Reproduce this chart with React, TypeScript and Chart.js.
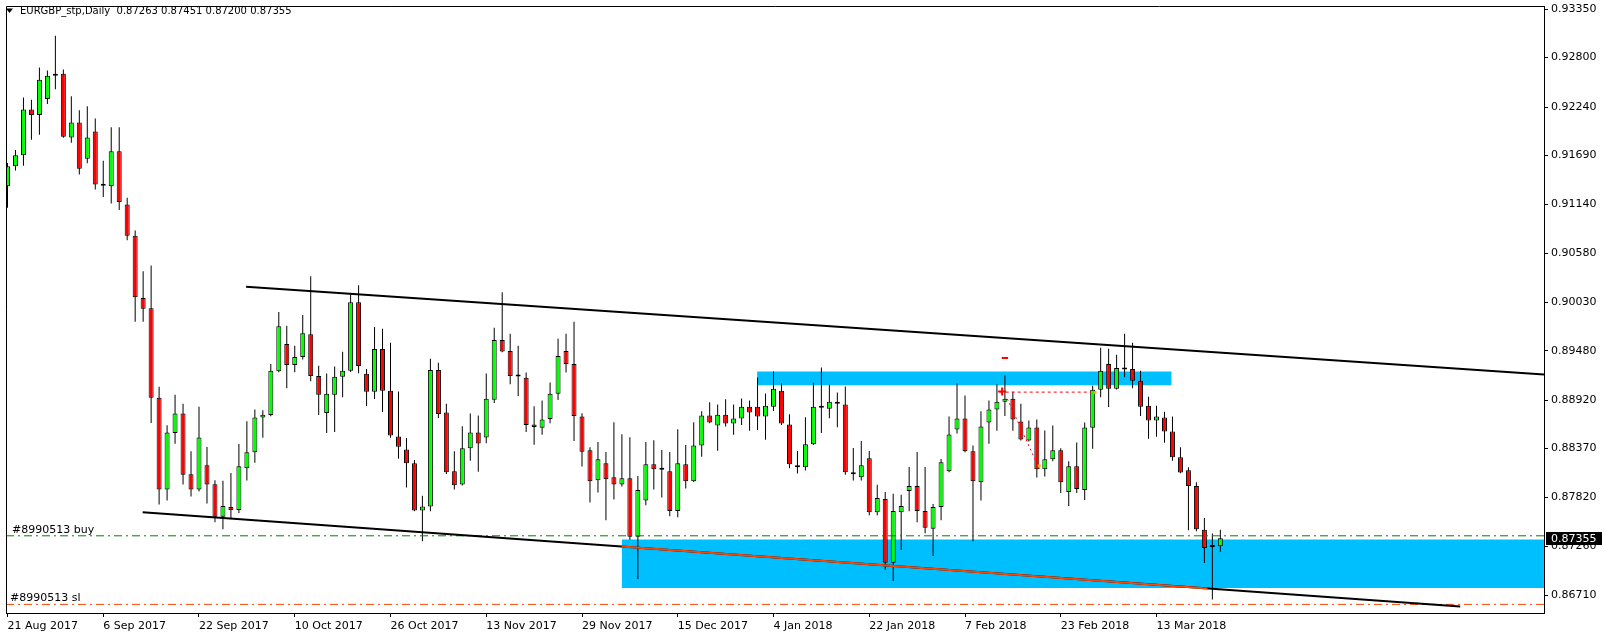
import React, { useEffect, useRef } from 'react';
import { Chart, registerables } from 'chart.js';

Chart.register(...registerables);

const symbolTitle = 'EURGBP_stp,Daily';
const dateLabels = ['21 Aug 2017', '6 Sep 2017', '22 Sep 2017', '10 Oct 2017', '26 Oct 2017', '13 Nov 2017', '29 Nov 2017', '15 Dec 2017', '4 Jan 2018', '22 Jan 2018', '7 Feb 2018', '23 Feb 2018', '13 Mar 2018'];
const dateTickBars = [0, 12, 24, 36, 48, 60, 72, 84, 96, 108, 120, 132, 144];
const priceTicks = [0.9335, 0.928, 0.9224, 0.9169, 0.9114, 0.9058, 0.9003, 0.8948, 0.8892, 0.8837, 0.8782, 0.8726, 0.8671];

const opens = [0.91344, 0.91569, 0.91693, 0.92211, 0.92150, 0.92330, 0.92594, 0.92616, 0.91896, 0.92065, 0.91655, 0.91963, 0.91351, 0.91344, 0.91738, 0.91137, 0.90781, 0.90076, 0.89960, 0.88947, 0.87907, 0.88548, 0.88767, 0.88080, 0.87907, 0.88181, 0.87967, 0.87599, 0.87709, 0.87675, 0.88147, 0.88328, 0.88722, 0.88751, 0.89246, 0.89555, 0.89318, 0.89408, 0.89667, 0.89194, 0.88773, 0.88980, 0.89183, 0.89251, 0.90027, 0.89217, 0.89014, 0.89498, 0.89025, 0.88508, 0.88361, 0.88204, 0.87670, 0.87715, 0.89262, 0.88778, 0.88114, 0.87963, 0.88373, 0.88553, 0.88496, 0.88924, 0.89600, 0.89476, 0.89187, 0.89172, 0.88643, 0.88605, 0.88706, 0.88992, 0.89476, 0.89329, 0.88733, 0.88350, 0.88012, 0.88204, 0.88046, 0.87963, 0.88035, 0.87371, 0.87783, 0.88193, 0.88132, 0.88114, 0.87664, 0.88193, 0.88001, 0.88406, 0.88744, 0.88632, 0.88755, 0.88654, 0.88710, 0.88845, 0.88845, 0.88733, 0.88845, 0.89025, 0.88643, 0.88181, 0.88159, 0.88418, 0.88834, 0.88823, 0.88902, 0.88871, 0.88103, 0.88046, 0.88260, 0.87648, 0.87799, 0.87078, 0.87648, 0.87889, 0.87945, 0.87664, 0.87461, 0.87709, 0.88114, 0.88587, 0.88710, 0.88339, 0.87990, 0.88665, 0.88812, 0.88902, 0.88935, 0.88677, 0.88463, 0.88609, 0.88136, 0.88249, 0.88350, 0.87877, 0.88170, 0.87900, 0.88605, 0.89037, 0.89329, 0.89048, 0.89266, 0.89273, 0.89138, 0.88857, 0.88688, 0.88722, 0.88564, 0.88271, 0.88125, 0.87945, 0.87450, 0.87256, 0.87263];
const highs = [0.91606, 0.91753, 0.92349, 0.92323, 0.92687, 0.92653, 0.93047, 0.92665, 0.92361, 0.92203, 0.92248, 0.92110, 0.91632, 0.92012, 0.92012, 0.91213, 0.90841, 0.90380, 0.90444, 0.89071, 0.88635, 0.88980, 0.88879, 0.88339, 0.88845, 0.88387, 0.88012, 0.88005, 0.88095, 0.88421, 0.88680, 0.88812, 0.88804, 0.89329, 0.89918, 0.89761, 0.89535, 0.89884, 0.90323, 0.89310, 0.89220, 0.89299, 0.89468, 0.90117, 0.90222, 0.89273, 0.89749, 0.89727, 0.89569, 0.89018, 0.88489, 0.88241, 0.87836, 0.89389, 0.89344, 0.88879, 0.88339, 0.88624, 0.88767, 0.88744, 0.89220, 0.89738, 0.90143, 0.89670, 0.89535, 0.89231, 0.88849, 0.88916, 0.89119, 0.89614, 0.89670, 0.89806, 0.88770, 0.88384, 0.88444, 0.88331, 0.88669, 0.88534, 0.88500, 0.88061, 0.88444, 0.88466, 0.88354, 0.88331, 0.88590, 0.88410, 0.88669, 0.88792, 0.88894, 0.88871, 0.88928, 0.88871, 0.88939, 0.88916, 0.89175, 0.88995, 0.89243, 0.89108, 0.88759, 0.88342, 0.88725, 0.89119, 0.89288, 0.89093, 0.89006, 0.89074, 0.88376, 0.88455, 0.88342, 0.87960, 0.87877, 0.87858, 0.87847, 0.88162, 0.88331, 0.88162, 0.87742, 0.88252, 0.88733, 0.89108, 0.88973, 0.88406, 0.88792, 0.88916, 0.89096, 0.89198, 0.89014, 0.88879, 0.88688, 0.88699, 0.88575, 0.88632, 0.88373, 0.88226, 0.88440, 0.88665, 0.89082, 0.89513, 0.89502, 0.89434, 0.89670, 0.89569, 0.89251, 0.88958, 0.88857, 0.88789, 0.88733, 0.88384, 0.88159, 0.87990, 0.87585, 0.87408, 0.87451];
const lows = [0.91100, 0.91520, 0.91576, 0.91869, 0.91925, 0.92274, 0.92443, 0.91891, 0.91835, 0.91475, 0.91603, 0.91306, 0.91220, 0.91148, 0.91074, 0.90732, 0.89806, 0.89806, 0.88661, 0.87738, 0.87783, 0.88424, 0.87963, 0.87828, 0.87884, 0.87749, 0.87535, 0.87456, 0.87580, 0.87641, 0.88008, 0.88211, 0.88492, 0.88736, 0.89235, 0.89055, 0.89235, 0.89381, 0.89134, 0.88751, 0.88548, 0.88559, 0.88953, 0.89239, 0.89224, 0.88852, 0.88931, 0.88785, 0.88492, 0.88256, 0.87929, 0.87659, 0.87321, 0.87659, 0.88717, 0.88083, 0.87907, 0.87952, 0.88233, 0.88109, 0.88432, 0.88886, 0.89462, 0.89100, 0.88965, 0.88559, 0.88413, 0.88526, 0.88657, 0.88920, 0.89231, 0.88455, 0.88166, 0.87760, 0.87873, 0.87558, 0.87794, 0.87941, 0.87337, 0.86894, 0.87727, 0.87907, 0.87817, 0.87603, 0.87591, 0.87918, 0.87993, 0.88278, 0.88657, 0.88346, 0.88620, 0.88526, 0.88638, 0.88571, 0.88582, 0.88469, 0.88796, 0.88638, 0.88147, 0.88087, 0.88121, 0.88410, 0.88548, 0.88714, 0.88612, 0.88075, 0.88008, 0.88008, 0.87614, 0.87614, 0.86995, 0.86871, 0.87220, 0.87659, 0.87535, 0.87411, 0.87152, 0.87558, 0.88103, 0.88541, 0.88328, 0.87321, 0.87783, 0.88424, 0.88571, 0.88740, 0.88571, 0.88463, 0.88451, 0.88042, 0.88053, 0.88226, 0.87866, 0.87720, 0.87866, 0.87787, 0.88368, 0.88953, 0.88841, 0.89040, 0.89179, 0.89055, 0.88740, 0.88481, 0.88503, 0.88436, 0.88233, 0.88091, 0.87445, 0.87434, 0.87074, 0.86659, 0.87200];
const closes = [0.91569, 0.91693, 0.92211, 0.92150, 0.92549, 0.92594, 0.92616, 0.91903, 0.92065, 0.91542, 0.91896, 0.91362, 0.91349, 0.91738, 0.91164, 0.90781, 0.90084, 0.89955, 0.88947, 0.87907, 0.88553, 0.88767, 0.88075, 0.87907, 0.88496, 0.87963, 0.87599, 0.87720, 0.87675, 0.88170, 0.88328, 0.88722, 0.88755, 0.89251, 0.89757, 0.89318, 0.89408, 0.89678, 0.89194, 0.88980, 0.88992, 0.89183, 0.89251, 0.90027, 0.89307, 0.89014, 0.89498, 0.89025, 0.88519, 0.88391, 0.88204, 0.87670, 0.87715, 0.89262, 0.88762, 0.88103, 0.87956, 0.88373, 0.88553, 0.88429, 0.88935, 0.89600, 0.89471, 0.89194, 0.89186, 0.88638, 0.88616, 0.88699, 0.88992, 0.89419, 0.89329, 0.88740, 0.88334, 0.88001, 0.88249, 0.88024, 0.87963, 0.88035, 0.87371, 0.87900, 0.88193, 0.88136, 0.88131, 0.87664, 0.88204, 0.88001, 0.88406, 0.88744, 0.88665, 0.88755, 0.88654, 0.88710, 0.88845, 0.88778, 0.88733, 0.88857, 0.89048, 0.88654, 0.88193, 0.88159, 0.88418, 0.88845, 0.88857, 0.88902, 0.88879, 0.88103, 0.88080, 0.88181, 0.87648, 0.87810, 0.87078, 0.87664, 0.87720, 0.87945, 0.87664, 0.87472, 0.87709, 0.88215, 0.88530, 0.88710, 0.88339, 0.88001, 0.88620, 0.88812, 0.88902, 0.88935, 0.88699, 0.88474, 0.88609, 0.88136, 0.88249, 0.88350, 0.87990, 0.88170, 0.87911, 0.88609, 0.89037, 0.89251, 0.89048, 0.89284, 0.89265, 0.89138, 0.88845, 0.88688, 0.88733, 0.88564, 0.88271, 0.88098, 0.87945, 0.87456, 0.87243, 0.87255, 0.87355];

// drawn objects, in bar-index / price units
const upperTrendBars = [29.9, 192.56];
const upperTrendPrices = [0.90203, 0.89209];
const lowerTrendBars = [16.94, 182.06];
const lowerTrendPrices = [0.87648, 0.86582];
const orangeTrendBars = [76.97, 150.4];
const orangeTrendPrices = [0.87260, 0.86786];
const resistanceBars = [93.94, 145.9];
const resistancePrices = [0.89243, 0.89089];
const supportBars = [76.97, 192.56];
const supportPrices = [0.87340, 0.86792];
const orderTicket = '#8990513';
const buyPrice = 0.87382;
const slPrice = 0.86605;
const tradeLineBars = [124.35, 135.8];
const tradeLinePrice = 0.89010;
const tradeDiagBars = [125.3, 129.35];
const tradeDiagPrices = [0.88935, 0.88136];
const tradeMarkBars = [124.6, 125.4];
const tradeMarkPrice = 0.89397;
const tradeCrossBar = 124.65;
const tradeCrossPrice = 0.89018;
const tradeDotBars = [129.3, 136.3];
const tradeDotPrices = [0.88174, 0.89006];

const X_MIN = -0.1875;
const X_MAX = 192.5625;
const Y_MIN = 0.865074;
const Y_MAX = 0.933849;
const FONT = 'DejaVu Sans';

const overlayPlugin = {
  id: 'mt4Overlay',
  afterDraw(chart: any) {
    const { ctx, chartArea: a, scales } = chart;
    const y = scales.y;
    ctx.save();
    // frame (left/top)
    ctx.strokeStyle = '#000';
    ctx.lineWidth = 1;
    ctx.beginPath();
    ctx.moveTo(a.left + 0.5, a.bottom);
    ctx.lineTo(a.left + 0.5, a.top + 0.5);
    ctx.lineTo(a.right, a.top + 0.5);
    ctx.stroke();
    // header
    const n = closes.length - 1;
    ctx.fillStyle = '#000';
    ctx.beginPath();
    ctx.moveTo(6, 8.5);
    ctx.lineTo(13, 8.5);
    ctx.lineTo(9.5, 13);
    ctx.closePath();
    ctx.fill();
    ctx.font = `10px ${FONT}`;
    ctx.textBaseline = 'middle';
    ctx.textAlign = 'left';
    const head = `${symbolTitle}  ${opens[n].toFixed(5)} ${highs[n].toFixed(5)} ${lows[n].toFixed(5)} ${closes[n].toFixed(5)}`;
    ctx.fillText(head, 20, 11.5);
    // order labels
    ctx.font = `11px ${FONT}`;
    ctx.textBaseline = 'alphabetic';
    ctx.fillText(`${orderTicket} buy`, 12, y.getPixelForValue(buyPrice) - 3);
    ctx.fillText(`${orderTicket} sl`, 10, y.getPixelForValue(slPrice) - 3);
    // last price box
    const py = y.getPixelForValue(closes[n]);
    ctx.fillStyle = '#000';
    ctx.fillRect(a.right + 2, Math.round(py) - 6, 56, 13);
    ctx.fillStyle = '#fff';
    ctx.textBaseline = 'middle';
    ctx.fillText(closes[n].toFixed(5), a.right + 7, py + 0.5);
    ctx.restore();
  },
};

function seg(xs: number[], ys: number[]) {
  return xs.map((x, i) => ({ x, y: ys[i] }));
}

export default function App() {
  const ref = useRef<HTMLCanvasElement | null>(null);
  useEffect(() => {
    document.body.style.margin = '0';
    const canvas = ref.current!;
    const idx = closes.map((_, i) => i);
    const isDoji = (i: number) => Math.abs(closes[i] - opens[i]) < 0.00003;
    const bodyColors = idx.map((i) => (isDoji(i) ? '#000' : closes[i] > opens[i] ? '#00FF00' : '#FF0000'));
    const lineBase = { type: 'line', pointRadius: 0, fill: false, tension: 0 };
    const chart = new Chart(canvas, {
      type: 'bar',
      data: {
        datasets: [
          {
            ...lineBase,
            data: seg(supportBars, [supportPrices[0], supportPrices[0]]),
            fill: { value: supportPrices[1] },
            backgroundColor: '#00BFFF',
            borderWidth: 0,
            order: 30,
          },
          {
            ...lineBase,
            data: seg(resistanceBars, [resistancePrices[0], resistancePrices[0]]),
            fill: { value: resistancePrices[1] },
            backgroundColor: '#00BFFF',
            borderWidth: 0,
            order: 29,
          },
          {
            type: 'bar',
            data: idx.map((i) => ({ x: i, y: [lows[i], highs[i]] })),
            backgroundColor: '#000',
            borderWidth: 0,
            maxBarThickness: 1,
            grouped: false,
            inflateAmount: 0,
            order: 20,
          },
          {
            type: 'bar',
            data: idx.map((i) => ({ x: i, y: [opens[i], closes[i]] })),
            backgroundColor: bodyColors,
            borderColor: '#000',
            borderWidth: 1,
            borderSkipped: false,
            maxBarThickness: 5,
            minBarLength: 2,
            grouped: false,
            inflateAmount: 0,
            order: 19,
          },
          {
            ...lineBase,
            data: seg([X_MIN, X_MAX], [buyPrice, buyPrice]),
            borderColor: '#008000',
            borderWidth: 1,
            borderDash: [8, 4, 2, 4],
            order: 10,
          },
          {
            ...lineBase,
            data: seg([X_MIN, X_MAX], [slPrice, slPrice]),
            borderColor: '#FF4500',
            borderWidth: 1,
            borderDash: [8, 4, 2, 4],
            order: 10,
          },
          {
            ...lineBase,
            data: seg(lowerTrendBars, lowerTrendPrices),
            borderColor: '#000',
            borderWidth: 2,
            order: 6,
          },
          {
            ...lineBase,
            data: seg(orangeTrendBars, orangeTrendPrices),
            borderColor: '#FF4500',
            borderWidth: 2,
            order: 5,
          },
          {
            ...lineBase,
            data: seg(upperTrendBars, upperTrendPrices),
            borderColor: '#000',
            borderWidth: 2,
            order: 5,
          },
          {
            ...lineBase,
            data: seg(tradeLineBars, [tradeLinePrice, tradeLinePrice]),
            borderColor: '#FF0000',
            borderWidth: 1,
            borderDash: [3, 3],
            order: 4,
          },
          {
            ...lineBase,
            data: seg(tradeDiagBars, tradeDiagPrices),
            borderColor: '#FF0000',
            borderWidth: 1,
            borderDash: [2, 3],
            order: 4,
          },
          {
            ...lineBase,
            data: seg(tradeMarkBars, [tradeMarkPrice, tradeMarkPrice]),
            borderColor: '#FF0000',
            borderWidth: 2,
            order: 4,
          },
          {
            ...lineBase,
            data: [{ x: tradeCrossBar, y: tradeCrossPrice }],
            showLine: false,
            pointRadius: 4,
            pointStyle: 'cross',
            pointBorderWidth: 2,
            pointBorderColor: '#FF0000',
            order: 3,
          },
          {
            ...lineBase,
            data: seg(tradeDotBars, tradeDotPrices),
            showLine: false,
            pointRadius: 2,
            pointStyle: 'rect',
            pointBackgroundColor: '#FFB000',
            pointBorderWidth: 0,
            order: 3,
          },
        ] as any,
      },
      options: {
        responsive: false,
        animation: false,
        devicePixelRatio: 1,
        events: [],
        layout: { padding: { left: 2, top: 2, right: 0, bottom: 0 } },
        plugins: { legend: { display: false }, tooltip: { enabled: false } },
        scales: {
          x: {
            type: 'linear',
            min: X_MIN,
            max: X_MAX,
            offset: false,
            bounds: 'data',
            afterBuildTicks: (s: any) => {
              s.ticks = dateTickBars.map((v) => ({ value: v }));
            },
            afterFit: (s: any) => {
              s.height = 24;
              s.paddingLeft = 0;
              s.paddingRight = 0;
            },
            grid: { offset: false, drawOnChartArea: false, drawTicks: true, tickLength: 4, color: '#000' },
            border: { display: true, color: '#000', width: 1 },
            ticks: {
              autoSkip: false,
              maxRotation: 0,
              minRotation: 0,
              align: 'start',
              padding: 3,
              color: '#000',
              font: { family: FONT, size: 11 },
              callback: (_v: any, i: number) => dateLabels[i],
            },
          },
          y: {
            type: 'linear',
            position: 'right',
            min: Y_MIN,
            max: Y_MAX,
            bounds: 'data',
            beginAtZero: false,
            afterBuildTicks: (s: any) => {
              s.ticks = priceTicks.map((v) => ({ value: v }));
            },
            afterFit: (s: any) => {
              s.width = 60;
              s.paddingTop = 0;
              s.paddingBottom = 0;
            },
            grid: { drawOnChartArea: false, drawTicks: true, tickLength: 4, color: '#000' },
            border: { display: true, color: '#000', width: 1 },
            ticks: {
              autoSkip: false,
              padding: 3,
              color: '#000',
              font: { family: FONT, size: 11 },
              callback: (v: any) => Number(v).toFixed(5),
            },
          },
        },
      } as any,
      plugins: [overlayPlugin],
    });
    return () => chart.destroy();
  }, []);
  return (
    <div style={{ width: 1604, height: 637 }}>
      <canvas ref={ref} width={1604} height={637} style={{ display: 'block' }} />
    </div>
  );
}
